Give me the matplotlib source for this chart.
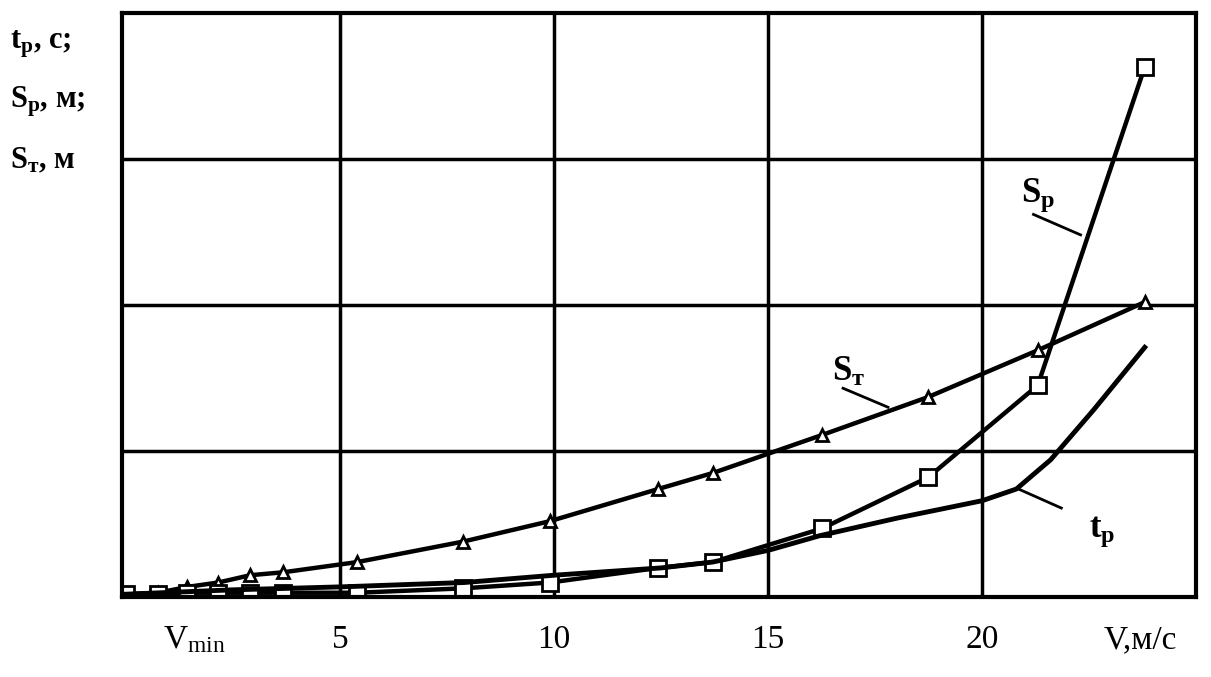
import numpy as np
import matplotlib.pyplot as plt

plt.rcParams['font.family'] = ['Liberation Serif', 'DejaVu Serif']
plt.rcParams['mathtext.fontset'] = 'custom'
plt.rcParams['mathtext.rm'] = 'Liberation Serif'
plt.rcParams['mathtext.it'] = 'Liberation Serif'
plt.rcParams['mathtext.bf'] = 'Liberation Serif:bold'

# values (y in grid units, no scale printed)
v_pts = [0, 0.75, 1.43, 2.15, 2.9, 3.67, 5.4, 7.87, 9.9, 12.43, 13.71, 16.26, 18.74, 21.3, 23.8]
s_t = [0.02, 0.03, 0.07, 0.1, 0.15, 0.17, 0.24, 0.38, 0.52, 0.74, 0.85, 1.11, 1.37, 1.69, 2.02]
s_p = [0.02, 0.02, 0.03, 0.03, 0.03, 0.03, 0.03, 0.06, 0.1, 0.2, 0.24, 0.47, 0.82, 1.45, 3.63]

v_tp = [0, 2.5, 5, 7.9, 10, 12.5, 13.7, 15, 16.2, 18, 20, 20.8, 21.6, 22.6, 23.8]
t_p = [0.02, 0.05, 0.07, 0.1, 0.15, 0.2, 0.24, 0.32, 0.42, 0.54, 0.66, 0.74, 0.94, 1.28, 1.71]

xticks = [1.6, 5, 10, 15, 20, 23.7]
xtick_labels = [r'V$_{\mathrm{min}}$', '5', '10', '15', '20', 'V,м/с']

fig = plt.figure(figsize=(12.11, 6.77), dpi=100)
ax = fig.add_axes([0.1007, 0.118, 0.887, 0.863])

ax.plot(v_pts, s_t, '-', c='k', lw=3.2, marker='^', ms=9, mfc='white', mec='k', mew=2)
ax.plot(v_pts, s_p, '-', c='k', lw=3.2, marker='s', ms=12, mfc='white', mec='k', mew=2)
ax.plot(v_tp, t_p, '-', c='k', lw=3.5)

ax.set_xlim(-0.1, 25)
ax.set_ylim(0, 4)
for xv in [5, 10, 15, 20]:
    ax.axvline(xv, c='k', lw=2.5, zorder=0)
for yv in [1, 2, 3]:
    ax.axhline(yv, c='k', lw=2.5, zorder=0)
for s in ax.spines.values():
    s.set_linewidth(3)

ax.set_xticks(xticks)
ax.set_xticklabels(xtick_labels, fontsize=24)
ax.tick_params(axis='x', length=0, pad=20)
ax.set_yticks([])

# curve labels with leaders
ax.text(20.9, 2.75, r'$\mathbf{S_p}$', fontsize=25, ha='left', va='center')
ax.plot([21.2, 22.3], [2.62, 2.48], c='k', lw=2)
ax.text(16.5, 1.54, r'$\mathbf{S_т}$', fontsize=25, ha='left', va='center')
ax.plot([16.75, 17.8], [1.43, 1.30], c='k', lw=2)
ax.text(22.5, 0.45, r'$\mathbf{t_p}$', fontsize=25, ha='left', va='center')
ax.plot([21.85, 20.85], [0.61, 0.74], c='k', lw=2)

# y axis captions
fig.text(0.008, 0.935, r'$\mathbf{t_p}$, c;', fontsize=22, fontweight='bold', va='center')
fig.text(0.008, 0.85, r'$\mathbf{S_p}$, м;', fontsize=22, fontweight='bold', va='center')
fig.text(0.008, 0.762, r'$\mathbf{S_т}$, м', fontsize=22, fontweight='bold', va='center')

fig.savefig('out.png', dpi=100)
